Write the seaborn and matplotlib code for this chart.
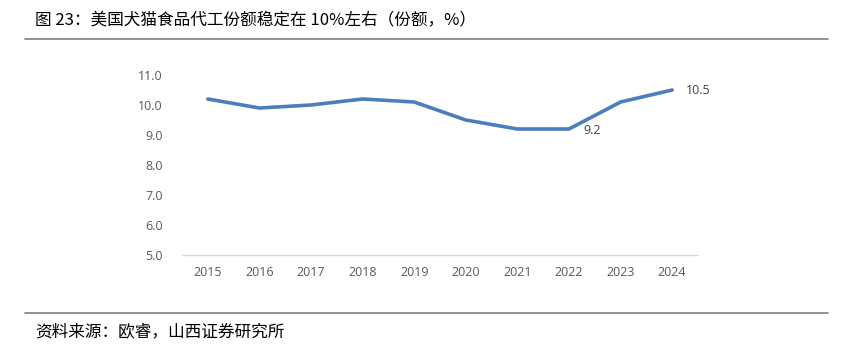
import matplotlib
matplotlib.use("Agg")
import matplotlib.pyplot as plt
import seaborn as sns
import pandas as pd

years = ["2015", "2016", "2017", "2018", "2019", "2020", "2021", "2022", "2023", "2024"]
share = [10.2, 9.9, 10.0, 10.2, 10.1, 9.5, 9.2, 9.2, 10.1, 10.5]
y_ticks = [5.0, 6.0, 7.0, 8.0, 9.0, 10.0, 11.0]
title_text = "图 23：美国犬猫食品代工份额稳定在 10%左右（份额，%）"
source_text = "资料来源：欧睿，山西证券研究所"

sns.set_theme(style="white")
plt.rcParams['font.family'] = ['Noto Sans CJK SC', 'DejaVu Sans']

df = pd.DataFrame({"year": years, "share": share})

fig = plt.figure(figsize=(8.49, 3.47), dpi=100)
ax = fig.add_axes([182/849, 1-255/347, 516/849, 180/347])

line_color = "#4A7EBF"
sns.lineplot(data=df, x="year", y="share", ax=ax, color=line_color, linewidth=2.6, sort=False)

ax.set_ylim(5.0, 11.0)
ax.set_xlim(-0.5, len(years) - 0.5)
ax.set_yticks(y_ticks)
ax.set_yticklabels([f"{v:.1f}" for v in y_ticks])
ax.set_xlabel("")
ax.set_ylabel("")
for s in ["top", "right", "left"]:
    ax.spines[s].set_visible(False)
ax.spines["bottom"].set_color("#D9D9D9")
ax.spines["bottom"].set_linewidth(1.0)
ax.tick_params(axis="both", length=0, labelsize=9, labelcolor="#595959")
ax.tick_params(axis="y", pad=14)
ax.tick_params(axis="x", pad=8)
for lab in ax.get_xticklabels() + ax.get_yticklabels():
    lab.set_fontfamily(["Open Sans", "DejaVu Sans"])
ax.grid(False)

# data labels
last = len(years) - 1
ax.annotate(f"{share[last]:.1f}", xy=(last, share[last]), xytext=(10, 0), textcoords="offset points",
            ha="left", va="center", fontsize=9, color="#404040", family=["Open Sans", "DejaVu Sans"])
ax.annotate(f"{share[7]:.1f}", xy=(7, share[7]), xytext=(10, -1), textcoords="offset points",
            ha="left", va="center", fontsize=9, color="#404040", family=["Open Sans", "DejaVu Sans"])

# title, rules, source
fig.text(35/849, 1-21/347, title_text, ha="left", va="center", fontsize=12, color="#000000")
fig.add_artist(plt.Line2D([25/849, 828/849], [1-39/347, 1-39/347], color="#7F7F7F", linewidth=1.2,
                          transform=fig.transFigure))
fig.add_artist(plt.Line2D([25/849, 828/849], [1-313/347, 1-313/347], color="#7F7F7F", linewidth=1.2,
                          transform=fig.transFigure))
fig.text(35/849, 1-332/347, source_text, ha="left", va="center", fontsize=12, color="#000000")

fig.savefig("out.png", dpi=100)
